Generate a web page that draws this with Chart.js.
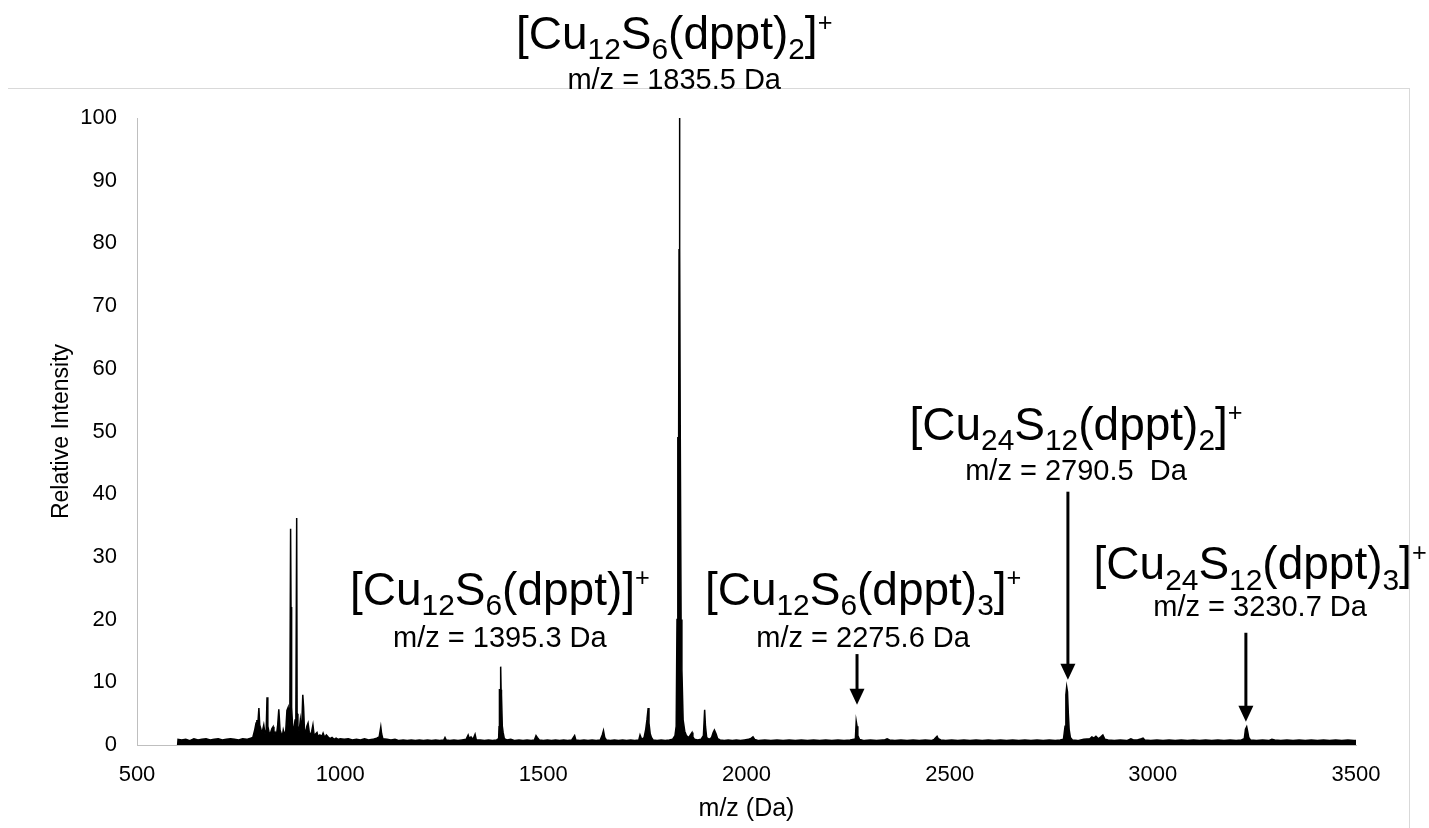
<!DOCTYPE html>
<html>
<head>
<meta charset="utf-8">
<script src="https://cdn.jsdelivr.net/npm/chart.js@4.4.0/dist/chart.umd.min.js"></script>
<style>
  html, body { margin: 0; padding: 0; background: #fff; }
  #wrap { position: relative; width: 1429px; height: 828px; overflow: hidden; }
  #frame { position: absolute; left: 8px; top: 88px; width: 1401px; height: 760px;
           border-top: 1px solid #d9d9d9; border-right: 1px solid #d9d9d9; }
  #spectrum { position: absolute; left: 0; top: 0; }
</style>
</head>
<body>
<div id="wrap">
  <div id="frame"></div>
  <canvas id="spectrum" width="1429" height="828"></canvas>
</div>
<script>
// m/z values (Da) and relative intensities
const mzValues = [
  600, 601, 610, 620, 630, 640, 650, 660, 670, 680, 690, 700, 710, 720, 730, 740, 750, 760, 770, 780,
  785, 790, 793, 795, 797, 800, 802, 805, 808, 812, 815, 818, 820, 822, 825, 828, 832, 835, 837, 840,
  843, 846, 849, 852, 855, 858, 860, 863, 866, 869, 872, 874, 876, 878, 879, 880, 881, 883, 886, 889,
  891, 893, 894, 896, 899, 902, 905, 908, 910, 912, 915, 918, 921, 924, 927, 930, 933, 936, 940, 943,
  946, 950, 955, 958, 962, 966, 970, 975, 980, 985, 990, 995, 1000, 1010, 1020, 1030, 1040, 1050, 1060, 1070,
  1080, 1090, 1096, 1100, 1102, 1105, 1115, 1125, 1135, 1145, 1155, 1165, 1175, 1185, 1195, 1205, 1215, 1225, 1235, 1245,
  1255, 1258, 1261, 1270, 1280, 1290, 1300, 1310, 1315, 1318, 1322, 1327, 1332, 1335, 1345, 1355, 1365, 1375, 1385, 1390,
  1391, 1392, 1394, 1395, 1396, 1397, 1399, 1401, 1404, 1410, 1420, 1430, 1440, 1450, 1460, 1470, 1478, 1482, 1485, 1490,
  1500, 1510, 1520, 1530, 1540, 1550, 1560, 1570, 1577, 1580, 1590, 1600, 1610, 1620, 1630, 1640, 1645, 1648, 1651, 1655,
  1665, 1675, 1685, 1695, 1705, 1715, 1725, 1735, 1738, 1742, 1748, 1752, 1755, 1758, 1760, 1763, 1766, 1770, 1780, 1790,
  1800, 1810, 1818, 1824, 1827, 1829, 1831, 1833, 1834, 1835, 1836, 1837, 1838, 1839, 1841, 1844, 1848, 1852, 1858, 1862,
  1866, 1868, 1872, 1880, 1888, 1894, 1897, 1899, 1902, 1908, 1914, 1918, 1921, 1925, 1929, 1935, 1945, 1955, 1965, 1975,
  1985, 1995, 2005, 2012, 2016, 2020, 2030, 2045, 2060, 2075, 2090, 2105, 2120, 2135, 2150, 2165, 2180, 2195, 2210, 2225,
  2240, 2255, 2265, 2268, 2270, 2272, 2274, 2278, 2290, 2305, 2320, 2335, 2340, 2346, 2352, 2365, 2380, 2395, 2410, 2425,
  2440, 2455, 2462, 2466, 2469, 2472, 2478, 2490, 2505, 2520, 2535, 2550, 2565, 2580, 2595, 2610, 2625, 2640, 2655, 2670,
  2685, 2700, 2715, 2730, 2745, 2760, 2772, 2780, 2784, 2786, 2788, 2790, 2792, 2794, 2797, 2802, 2815, 2830, 2845, 2850,
  2855, 2860, 2866, 2872, 2877, 2882, 2890, 2905, 2920, 2935, 2940, 2946, 2952, 2962, 2972, 2976, 2980, 2995, 3010, 3025,
  3040, 3055, 3070, 3085, 3100, 3115, 3130, 3145, 3160, 3175, 3190, 3205, 3218, 3225, 3228, 3231, 3233, 3236, 3240, 3255,
  3270, 3285, 3293, 3300, 3315, 3330, 3345, 3360, 3375, 3390, 3405, 3420, 3435, 3450, 3465, 3480, 3495, 3499, 3500
];
const intensityValues = [
  0, 0.9, 0.8, 0.9, 0.7, 1.0, 0.8, 0.9, 1.0, 0.8, 0.9, 1.0, 0.8, 0.9, 1.0, 0.9, 0.8, 1.0, 0.9, 1.1,
  1.2, 2.5, 3.5, 4.0, 3.0, 5.9, 3.2, 2.5, 2.0, 3.2, 1.8, 2.4, 7.6, 3.0, 2.0, 1.8, 2.6, 2.9, 1.6, 2.0,
  1.5, 3.0, 5.7, 2.4, 1.8, 1.5, 2.4, 1.7, 2.2, 5.5, 6.0, 3.0, 2.0, 34.5, 22, 20.4, 6.0, 3.0, 2.5, 4.0,
  5.0, 36.2, 5.0, 3.0, 2.2, 4.0, 2.0, 8.0, 6.0, 2.5, 2.0, 3.0, 3.5, 2.0, 1.6, 2.2, 3.2, 1.5, 1.8, 2.0,
  1.3, 1.6, 1.4, 1.9, 1.2, 1.6, 1.3, 1.0, 1.2, 0.9, 1.1, 0.9, 1.0, 0.9, 1.0, 0.8, 0.9, 0.8, 1.0, 0.8,
  0.9, 1.1, 1.3, 2.9, 1.8, 1.0, 0.9, 0.8, 0.9, 0.7, 0.8, 0.7, 0.8, 0.7, 0.8, 0.7, 0.8, 0.7, 0.8, 0.7,
  0.8, 1.2, 0.8, 0.7, 0.8, 0.7, 0.8, 0.9, 1.6, 1.0, 1.3, 0.9, 1.7, 0.8, 0.8, 0.7, 0.8, 0.7, 0.8, 1.0,
  2.9, 8.8, 8.8, 12.5, 8.8, 8.0, 3.0, 2.0, 1.0, 0.8, 0.9, 0.7, 0.8, 0.7, 0.8, 0.7, 0.8, 1.5, 1.2, 0.8,
  0.7, 0.8, 0.7, 0.8, 0.7, 0.8, 0.7, 0.8, 1.5, 0.8, 0.7, 0.8, 0.7, 0.8, 0.7, 0.8, 1.6, 2.3, 1.2, 0.8,
  0.7, 0.8, 0.7, 0.8, 0.7, 0.8, 0.7, 0.8, 1.6, 0.9, 1.2, 2.5, 4.0, 5.9, 3.5, 1.8, 1.2, 0.8, 0.7, 0.8,
  0.7, 0.8, 0.9, 1.5, 3.0, 20, 49, 49, 79, 100, 79, 49, 49, 20, 12, 4.0, 2.2, 1.5, 1.2, 1.6,
  2.0, 1.3, 0.9, 0.8, 0.9, 1.5, 5.6, 3.0, 1.2, 0.9, 1.2, 2.0, 2.4, 1.8, 1.0, 0.8, 0.7, 0.8, 0.7, 0.8,
  0.7, 0.8, 0.9, 1.1, 1.3, 0.9, 0.7, 0.8, 0.7, 0.8, 0.7, 0.8, 0.7, 0.8, 0.7, 0.8, 0.7, 0.8, 0.7, 0.8,
  0.7, 0.8, 0.9, 1.0, 3.8, 3.0, 1.5, 0.9, 0.7, 0.8, 0.7, 0.8, 0.8, 1.0, 0.8, 0.7, 0.8, 0.7, 0.8, 0.7,
  0.8, 0.7, 0.9, 1.2, 1.4, 1.0, 0.8, 0.7, 0.8, 0.7, 0.8, 0.7, 0.8, 0.7, 0.8, 0.7, 0.8, 0.7, 0.8, 0.7,
  0.8, 0.7, 0.8, 0.7, 0.8, 0.7, 0.8, 0.9, 3.0, 8.0, 9.3, 8.5, 5.0, 2.5, 1.2, 0.8, 0.7, 0.9, 1.0, 1.3,
  1.1, 1.4, 1.0, 1.3, 1.6, 0.9, 0.8, 0.7, 0.8, 0.7, 0.8, 1.0, 0.8, 0.8, 1.0, 1.1, 0.8, 0.7, 0.8, 0.7,
  0.8, 0.7, 0.8, 0.7, 0.8, 0.7, 0.8, 0.7, 0.8, 0.7, 0.8, 0.7, 0.8, 1.0, 2.5, 2.9, 2.3, 1.2, 0.8, 0.7,
  0.8, 0.7, 0.9, 0.8, 0.7, 0.8, 0.7, 0.8, 0.7, 0.8, 0.7, 0.8, 0.7, 0.8, 0.7, 0.8, 0.7, 0.7, 0
];

const xTicks = [500, 1000, 1500, 2000, 2500, 3000, 3500];
const yTicks = [0, 10, 20, 30, 40, 50, 60, 70, 80, 90, 100];

// peak assignments: formula pieces ('' normal, 'sub', 'sup') and m/z text
const peakFormulas = [
  [['[Cu', ''], ['12', 'sub'], ['S', ''], ['6', 'sub'], ['(dppt)', ''], ['2', 'sub'], [']', ''], ['+', 'sup']],
  [['[Cu', ''], ['12', 'sub'], ['S', ''], ['6', 'sub'], ['(dppt)]', ''], ['+', 'sup']],
  [['[Cu', ''], ['12', 'sub'], ['S', ''], ['6', 'sub'], ['(dppt)', ''], ['3', 'sub'], [']', ''], ['+', 'sup']],
  [['[Cu', ''], ['24', 'sub'], ['S', ''], ['12', 'sub'], ['(dppt)', ''], ['2', 'sub'], [']', ''], ['+', 'sup']],
  [['[Cu', ''], ['24', 'sub'], ['S', ''], ['12', 'sub'], ['(dppt)', ''], ['3', 'sub'], [']', ''], ['+', 'sup']]
];
const peakMasses = ['m/z = 1835.5 Da', 'm/z = 1395.3 Da', 'm/z = 2275.6 Da', 'm/z = 2790.5  Da', 'm/z = 3230.7 Da'];

// where each label sits, in axis units: centre m/z, formula baseline, mass baseline
const labelPlacement = [
  { mz: 1822, formulaY: 111.0, massY: 104.7 },
  { mz: 1393, formulaY: 22.4, massY: 15.7 },
  { mz: 2287, formulaY: 22.4, massY: 15.7 },
  { mz: 2811, formulaY: 48.7, massY: 42.3 },
  { mz: 3264, formulaY: 26.4, massY: 20.6 }
];
// arrows: m/z, tail and tip intensity
const arrowPlacement = [
  { mz: 2272, from: 14.5, to: 6.4 },
  { mz: 2791, from: 40.4, to: 10.4 },
  { mz: 3229, from: 17.9, to: 3.7 }
];

const FONT = '"Liberation Sans", Arial, sans-serif';
Chart.defaults.font.family = FONT;
Chart.defaults.color = '#000';

function drawRich(ctx, parts, cx, baseY, size) {
  const pieces = parts.map(([t, k]) => {
    const s = k === '' ? size : k === 'sub' ? size * 0.65 : size * 0.55;
    ctx.font = s + 'px ' + FONT;
    return { t, k, s, w: ctx.measureText(t).width };
  });
  const total = pieces.reduce((a, p) => a + p.w, 0);
  let x = cx - total / 2;
  pieces.forEach(p => {
    ctx.font = p.s + 'px ' + FONT;
    const dy = p.k === 'sub' ? size * 0.22 : p.k === 'sup' ? -size * 0.4 : 0;
    ctx.fillText(p.t, x, baseY + dy);
    x += p.w;
  });
}

const peakLabelPlugin = {
  id: 'peakLabels',
  afterDatasetsDraw(chart) {
    const { ctx, scales: { x, y } } = chart;
    ctx.save();
    ctx.fillStyle = '#000';
    ctx.strokeStyle = '#000';
    ctx.textBaseline = 'alphabetic';
    ctx.textAlign = 'left';
    peakFormulas.forEach((parts, i) => {
      const p = labelPlacement[i];
      const cx = x.getPixelForValue(p.mz);
      drawRich(ctx, parts, cx, y.getPixelForValue(p.formulaY), 46);
      ctx.font = '29px ' + FONT;
      ctx.textAlign = 'center';
      ctx.fillText(peakMasses[i], cx, y.getPixelForValue(p.massY));
      ctx.textAlign = 'left';
    });
    arrowPlacement.forEach(a => {
      const ax = x.getPixelForValue(a.mz);
      const y1 = y.getPixelForValue(a.from);
      const y2 = y.getPixelForValue(a.to);
      ctx.lineWidth = 3;
      ctx.beginPath();
      ctx.moveTo(ax, y1);
      ctx.lineTo(ax, y2 - 14);
      ctx.stroke();
      ctx.beginPath();
      ctx.moveTo(ax - 7.5, y2 - 16);
      ctx.lineTo(ax + 7.5, y2 - 16);
      ctx.lineTo(ax, y2);
      ctx.closePath();
      ctx.fill();
    });
    ctx.restore();
  }
};

const ctx = document.getElementById('spectrum').getContext('2d');
new Chart(ctx, {
  type: 'line',
  data: {
    datasets: [{
      data: mzValues.map((m, i) => ({ x: m, y: intensityValues[i] })),
      borderColor: '#000',
      backgroundColor: '#000',
      borderWidth: 1.5,
      pointRadius: 0,
      fill: 'origin',
      tension: 0
    }]
  },
  options: {
    responsive: false,
    animation: false,
    layout: { padding: { top: 118, right: 73, left: 0, bottom: 0 } },
    plugins: { legend: { display: false }, tooltip: { enabled: false } },
    scales: {
      x: {
        type: 'linear',
        min: 500,
        max: 3500,
        afterBuildTicks: s => { s.ticks = xTicks.map(v => ({ value: v })); },
        afterFit: s => { s.height = 83; },
        ticks: { font: { size: 22 }, color: '#000', padding: 17, callback: v => String(v) },
        grid: { display: false, drawTicks: false },
        border: { color: '#bfbfbf', width: 1 },
        title: { display: true, text: 'm/z (Da)', font: { size: 25 }, color: '#000', padding: { top: 0, bottom: 4 } }
      },
      y: {
        min: 0,
        max: 100,
        afterBuildTicks: s => { s.ticks = yTicks.map(v => ({ value: v })); },
        afterFit: s => { s.width = 137; },
        ticks: { font: { size: 22 }, color: '#000', padding: 20, callback: v => String(v) },
        grid: { display: false, drawTicks: false },
        border: { color: '#bfbfbf', width: 1 },
        title: { display: true, text: 'Relative Intensity', font: { size: 23 }, color: '#000', padding: { top: 48, bottom: 0 } }
      }
    }
  },
  plugins: [peakLabelPlugin]
});
</script>
</body>
</html>
